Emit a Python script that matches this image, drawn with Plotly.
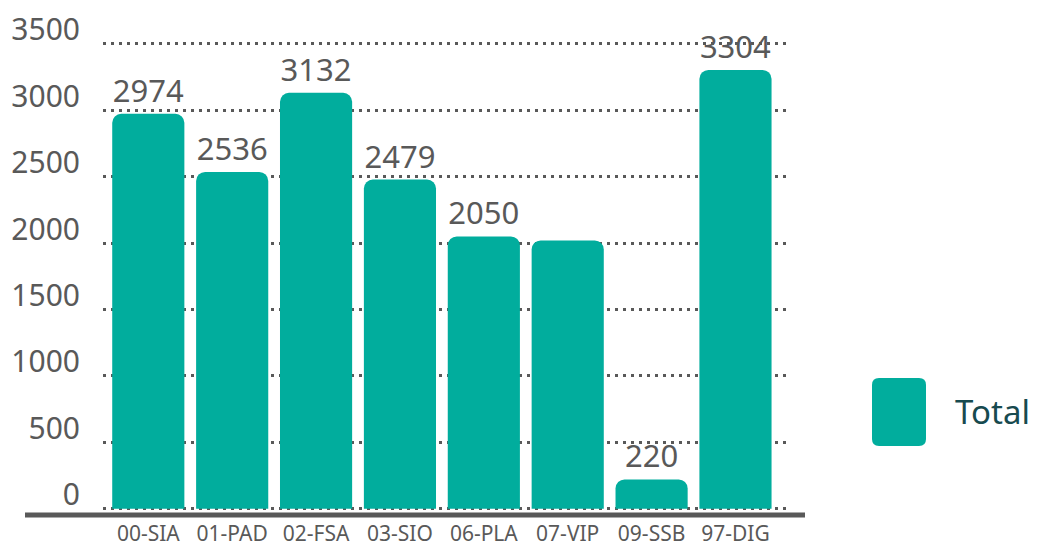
import plotly.graph_objects as go

categories = ["00-SIA", "01-PAD", "02-FSA", "03-SIO", "06-PLA", "07-VIP", "09-SSB", "97-DIG"]
totals = [2974, 2536, 3132, 2479, 2050, 2020, 220, 3304]
labels = ["2974", "2536", "3132", "2479", "2050", "", "220", "3304"]
y_ticks = [0, 500, 1000, 1500, 2000, 2500, 3000, 3500]
series_name = "Total"

TEAL = "#01AD9D"
GREY = "#595959"
FONT = "Noto Sans"

OFF = 8                   # page body margin
W, H = 1041 - OFF, 547 - OFF
L, R = 103 - OFF, 790 - OFF   # plot area pixel left/right
T, B = 24 - OFF, 512 - OFF    # plot area pixel top/bottom

fig = go.Figure()
fig.add_trace(go.Bar(
    x=categories, y=totals, name=series_name,
    marker=dict(color=TEAL, cornerradius=9, line=dict(width=0)),
    text=labels, textposition="outside", cliponaxis=False,
    textfont=dict(family=FONT, size=31, color=GREY),
    showlegend=False,
))

fig.update_layout(
    width=W, height=H,
    margin=dict(l=L, r=W - R, t=T, b=H - B, autoexpand=False),
    paper_bgcolor="white", plot_bgcolor="white",
    bargap=0.14,
    font=dict(family=FONT, color=GREY),
    showlegend=False,
)
fig.update_xaxes(
    range=[-0.54, 7.65], showgrid=False, zeroline=False, showline=False,
    tickfont=dict(family=FONT, size=21, color=GREY), ticks="",
    ticklabelstandoff=7, automargin=False,
)
fig.update_yaxes(
    range=[-25, 3650], tickvals=y_ticks, ticktext=[str(v) for v in y_ticks],
    showgrid=True, gridcolor=GREY, griddash="3px,5px", gridwidth=2.5,
    zeroline=False, showline=False, ticks="",
    tickfont=dict(family=FONT, size=30, color=GREY),
    ticklabelshift=-14, ticklabelstandoff=22, automargin=False,
)

def px_x(p):
    p -= OFF
    return (p - L) / (R - L)

def px_y(p):
    p -= OFF
    return (B - p) / (B - T)

# baseline axis bar
fig.add_shape(type="line", xref="paper", yref="paper",
              x0=px_x(25), x1=px_x(805), y0=px_y(515), y1=px_y(515),
              line=dict(color=GREY, width=5), layer="above")

# legend swatch (rounded rectangle) and text
x0, x1, y0, y1, r = 872, 926, 378, 446, 7
pts = [
    f"M {px_x(x0 + r)},{px_y(y0)}",
    f"L {px_x(x1 - r)},{px_y(y0)}",
    f"Q {px_x(x1)},{px_y(y0)} {px_x(x1)},{px_y(y0 + r)}",
    f"L {px_x(x1)},{px_y(y1 - r)}",
    f"Q {px_x(x1)},{px_y(y1)} {px_x(x1 - r)},{px_y(y1)}",
    f"L {px_x(x0 + r)},{px_y(y1)}",
    f"Q {px_x(x0)},{px_y(y1)} {px_x(x0)},{px_y(y1 - r)}",
    f"L {px_x(x0)},{px_y(y0 + r)}",
    f"Q {px_x(x0)},{px_y(y0)} {px_x(x0 + r)},{px_y(y0)} Z",
]
fig.add_shape(type="path", xref="paper", yref="paper", path=" ".join(pts),
              fillcolor=TEAL, line=dict(width=0))
fig.add_annotation(xref="paper", yref="paper", x=px_x(953), y=px_y(411),
                   text=series_name, showarrow=False, xanchor="left", yanchor="middle",
                   font=dict(family=FONT, size=33, color="#174A4F"))

fig.write_html("out.html")
